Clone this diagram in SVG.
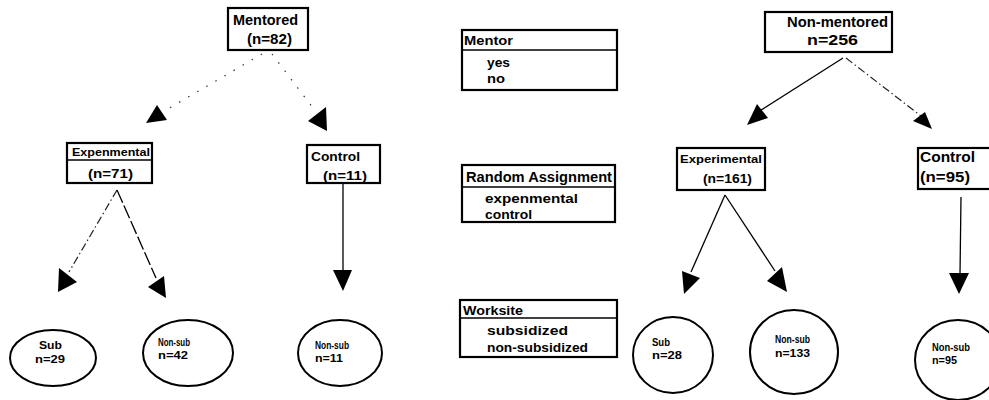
<svg xmlns="http://www.w3.org/2000/svg" width="989" height="400" viewBox="0 0 989 400">
<style>
text{font-family:"Liberation Sans",Arial,sans-serif;font-weight:bold;fill:#000}
.big{font-size:14px}
.mid{font-size:13px}
.sm{font-size:11px}
.cs{font-size:10px}
.box{fill:#fff;stroke:#000;stroke-width:2.2}
.ell{fill:#fff;stroke:#000;stroke-width:2}
.ln{fill:none;stroke:#000;stroke-width:1.3}
.dot{fill:none;stroke:#333;stroke-width:1.2;stroke-dasharray:1.5 9}
.dd{fill:none;stroke:#222;stroke-width:1.2;stroke-dasharray:8 3 1.5 3}
.dash{fill:none;stroke:#000;stroke-width:1.3;stroke-dasharray:14 3}
.ah{fill:#000}
</style>
<rect width="989" height="400" fill="#fff"/>
<g id="connectors">
<path class="dot" d="M262,54 L166,110"/>
<path class="dot" d="M272,54 L316,112"/>
<path class="dd" d="M117,190 L69,272"/>
<path class="dash" d="M117,190 L156,278"/>
<path class="ln" d="M343,184 L343,272"/>
<path class="ln" d="M843,58 L758,112"/>
<path class="dd" d="M846,58 L921,116"/>
<path class="ln" d="M725,195 L691,272"/>
<path class="ln" d="M725,195 L775,271"/>
<path class="ln" d="M961,197 L960,275"/>
<polygon class="ah" points="157,105 146,123 167,120"/>
<polygon class="ah" points="326,107 308,121 327,131"/>
<polygon class="ah" points="59,268 58,292 77,282"/>
<polygon class="ah" points="148,287 164,276 166,298"/>
<polygon class="ah" points="333,270 352,270 343,291"/>
<polygon class="ah" points="757,104 747,125 768,118"/>
<polygon class="ah" points="925,112 913,121 932,129"/>
<polygon class="ah" points="682,271 700,278 684,294"/>
<polygon class="ah" points="767,281 782,267 787,292"/>
<polygon class="ah" points="949,273 969,273 959,294"/>
</g>
<g id="mentored">
<rect class="box" x="228" y="8" width="80" height="42"/>
<text class="big" x="233" y="25" textLength="65" lengthAdjust="spacingAndGlyphs">Mentored</text>
<text class="big" x="247" y="44" textLength="45" lengthAdjust="spacingAndGlyphs">(n=82)</text>
</g>
<g id="experimental-left">
<rect class="box" x="67" y="143" width="85" height="40"/>
<line x1="67" y1="160" x2="152" y2="160" stroke="#000" stroke-width="1.5"/>
<text class="sm" x="72" y="156" textLength="78" lengthAdjust="spacingAndGlyphs">Expenmental</text>
<text class="mid" x="88" y="178" textLength="45" lengthAdjust="spacingAndGlyphs">(n=71)</text>
</g>
<g id="control-left">
<rect class="box" x="307" y="145" width="73" height="38"/>
<text class="mid" x="311" y="161" textLength="49" lengthAdjust="spacingAndGlyphs">Control</text>
<text class="mid" x="323" y="180" textLength="44" lengthAdjust="spacingAndGlyphs">(n=11)</text>
</g>
<g id="sub-left">
<ellipse class="ell" cx="53" cy="358" rx="43" ry="28"/>
<text class="cs" x="39" y="349" textLength="23" lengthAdjust="spacingAndGlyphs">Sub</text>
<text class="cs" x="35" y="363" textLength="30" lengthAdjust="spacingAndGlyphs">n=29</text>
</g>
<g id="nonsub-42">
<ellipse class="ell" cx="188" cy="353" rx="45" ry="33"/>
<text class="cs" x="158" y="346" textLength="32" lengthAdjust="spacingAndGlyphs">Non-sub</text>
<text class="cs" x="158" y="359" textLength="30" lengthAdjust="spacingAndGlyphs">n=42</text>
</g>
<g id="nonsub-11">
<ellipse class="ell" cx="340" cy="353" rx="42" ry="33"/>
<text class="cs" x="315" y="349" textLength="34" lengthAdjust="spacingAndGlyphs">Non-sub</text>
<text class="cs" x="315" y="362" textLength="28" lengthAdjust="spacingAndGlyphs">n=11</text>
</g>
<g id="legend-mentor">
<rect class="box" x="462" y="30" width="155" height="60"/>
<line x1="462" y1="50" x2="617" y2="50" stroke="#000" stroke-width="1.5"/>
<text class="mid" x="464" y="45" textLength="49" lengthAdjust="spacingAndGlyphs">Mentor</text>
<text class="mid" x="487" y="67" textLength="23" lengthAdjust="spacingAndGlyphs">yes</text>
<text class="mid" x="487" y="83" textLength="18" lengthAdjust="spacingAndGlyphs">no</text>
</g>
<g id="legend-random">
<rect class="box" x="462" y="165" width="153" height="57"/>
<line x1="462" y1="187" x2="615" y2="187" stroke="#000" stroke-width="1.5"/>
<text class="big" x="466" y="182" textLength="146" lengthAdjust="spacingAndGlyphs">Random Assignment</text>
<text class="mid" x="485" y="203" textLength="93" lengthAdjust="spacingAndGlyphs">expenmental</text>
<text class="mid" x="485" y="219" textLength="47" lengthAdjust="spacingAndGlyphs">control</text>
</g>
<g id="legend-worksite">
<rect class="box" x="460" y="300" width="157" height="57"/>
<line x1="460" y1="318" x2="617" y2="318" stroke="#000" stroke-width="1.5"/>
<text class="mid" x="463" y="315" textLength="60" lengthAdjust="spacingAndGlyphs">Worksite</text>
<text class="mid" x="487" y="335" textLength="81" lengthAdjust="spacingAndGlyphs">subsidized</text>
<text class="mid" x="487" y="352" textLength="101" lengthAdjust="spacingAndGlyphs">non-subsidized</text>
</g>
<g id="nonmentored">
<rect class="box" x="765" y="12" width="127" height="40"/>
<text class="big" x="787" y="27" textLength="101" lengthAdjust="spacingAndGlyphs">Non-mentored</text>
<text class="big" x="807" y="45" textLength="51" lengthAdjust="spacingAndGlyphs">n=256</text>
</g>
<g id="experimental-right">
<rect class="box" x="677" y="148" width="88" height="42"/>
<text class="sm" x="680" y="163" textLength="82" lengthAdjust="spacingAndGlyphs">Experimental</text>
<text class="mid" x="703" y="183" textLength="49" lengthAdjust="spacingAndGlyphs">(n=161)</text>
</g>
<g id="control-right">
<rect class="box" x="918" y="148" width="75" height="41"/>
<text class="big" x="920" y="162" textLength="55" lengthAdjust="spacingAndGlyphs">Control</text>
<text class="big" x="920" y="182" textLength="50" lengthAdjust="spacingAndGlyphs">(n=95)</text>
</g>
<g id="sub-28">
<ellipse class="ell" cx="673" cy="355" rx="40" ry="38"/>
<text class="cs" x="652" y="346" textLength="18" lengthAdjust="spacingAndGlyphs">Sub</text>
<text class="cs" x="652" y="359" textLength="30" lengthAdjust="spacingAndGlyphs">n=28</text>
</g>
<g id="nonsub-133">
<ellipse class="ell" cx="794" cy="352" rx="44" ry="42"/>
<text class="cs" x="775" y="343" textLength="35" lengthAdjust="spacingAndGlyphs">Non-sub</text>
<text class="cs" x="775" y="357" textLength="35" lengthAdjust="spacingAndGlyphs">n=133</text>
</g>
<g id="nonsub-95">
<ellipse class="ell" cx="958" cy="360" rx="43" ry="40"/>
<text class="cs" x="932" y="351" textLength="38" lengthAdjust="spacingAndGlyphs">Non-sub</text>
<text class="cs" x="932" y="364" textLength="25" lengthAdjust="spacingAndGlyphs">n=95</text>
</g>
</svg>
